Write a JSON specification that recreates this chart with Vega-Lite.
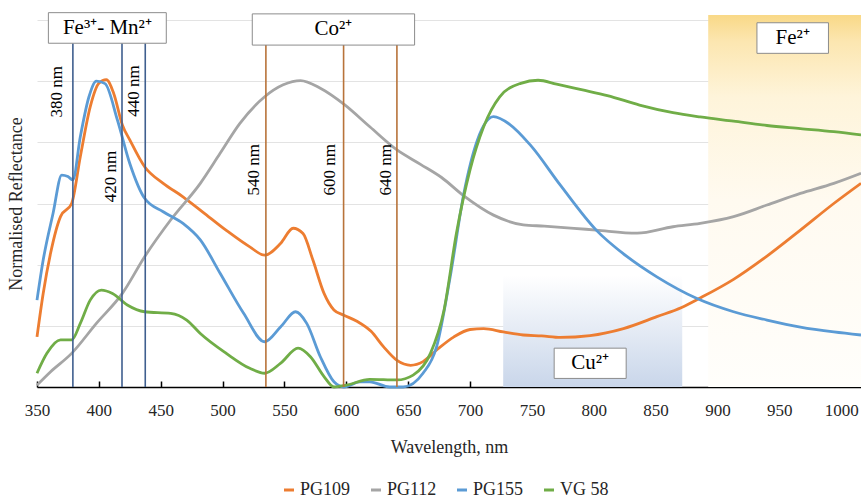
{
  "$schema": "https://vega.github.io/schema/vega-lite/v6.json",
  "width": 824,
  "height": 367,
  "autosize": {"type": "none"},
  "padding": {"left": 37, "top": 20, "right": 0, "bottom": 112},
  "background": "white",
  "config": {
    "view": {"stroke": null},
    "font": "Liberation Serif",
    "axis": {"labelFont": "Liberation Serif", "titleFont": "Liberation Serif", "titleFontWeight": "normal", "labelColor": "#262626", "titleColor": "#262626"}
  },
  "datasets": {
    "spectra": [
      {"s":"PG109","w":350,"r":0.164},{"s":"PG109","w":355,"r":0.306},{"s":"PG109","w":361,"r":0.438},{"s":"PG109","w":369,"r":0.557},{"s":"PG109","w":378,"r":0.600},{"s":"PG109","w":385,"r":0.753},{"s":"PG109","w":393,"r":0.916},{"s":"PG109","w":400,"r":0.993},{"s":"PG109","w":406,"r":1.005},{"s":"PG109","w":412,"r":0.96},{"s":"PG109","w":419,"r":0.857},{"s":"PG109","w":425,"r":0.808},{"s":"PG109","w":437,"r":0.72},{"s":"PG109","w":452,"r":0.666},{"s":"PG109","w":468,"r":0.622},{"s":"PG109","w":484,"r":0.572},{"s":"PG109","w":503,"r":0.512},{"s":"PG109","w":522,"r":0.458},{"s":"PG109","w":534,"r":0.431},{"s":"PG109","w":547,"r":0.47},{"s":"PG109","w":557,"r":0.519},{"s":"PG109","w":565,"r":0.502},{"s":"PG109","w":573,"r":0.415},{"s":"PG109","w":582,"r":0.306},{"s":"PG109","w":590,"r":0.252},{"s":"PG109","w":598,"r":0.235},{"s":"PG109","w":609,"r":0.214},{"s":"PG109","w":620,"r":0.182},{"s":"PG109","w":630,"r":0.132},{"s":"PG109","w":641,"r":0.087},{"s":"PG109","w":652,"r":0.071},{"s":"PG109","w":662,"r":0.083},{"s":"PG109","w":673,"r":0.121},{"s":"PG109","w":687,"r":0.164},{"s":"PG109","w":700,"r":0.188},{"s":"PG109","w":711,"r":0.191},{"s":"PG109","w":727,"r":0.18},{"s":"PG109","w":743,"r":0.17},{"s":"PG109","w":758,"r":0.167},{"s":"PG109","w":773,"r":0.162},{"s":"PG109","w":797,"r":0.168},{"s":"PG109","w":824,"r":0.191},{"s":"PG109","w":851,"r":0.23},{"s":"PG109","w":871,"r":0.26},{"s":"PG109","w":886,"r":0.291},{"s":"PG109","w":913,"r":0.352},{"s":"PG109","w":940,"r":0.428},{"s":"PG109","w":967,"r":0.513},{"s":"PG109","w":994,"r":0.60},{"s":"PG109","w":1016,"r":0.666},
      {"s":"PG112","w":350,"r":0.006},{"s":"PG112","w":361,"r":0.05},{"s":"PG112","w":378,"r":0.11},{"s":"PG112","w":398,"r":0.208},{"s":"PG112","w":419,"r":0.306},{"s":"PG112","w":437,"r":0.426},{"s":"PG112","w":458,"r":0.546},{"s":"PG112","w":482,"r":0.666},{"s":"PG112","w":498,"r":0.764},{"s":"PG112","w":514,"r":0.862},{"s":"PG112","w":534,"r":0.949},{"s":"PG112","w":549,"r":0.988},{"s":"PG112","w":563,"r":1.002},{"s":"PG112","w":579,"r":0.977},{"s":"PG112","w":598,"r":0.925},{"s":"PG112","w":619,"r":0.851},{"s":"PG112","w":641,"r":0.775},{"s":"PG112","w":660,"r":0.728},{"s":"PG112","w":677,"r":0.685},{"s":"PG112","w":695,"r":0.625},{"s":"PG112","w":719,"r":0.562},{"s":"PG112","w":743,"r":0.53},{"s":"PG112","w":760,"r":0.526},{"s":"PG112","w":784,"r":0.519},{"s":"PG112","w":802,"r":0.513},{"s":"PG112","w":835,"r":0.503},{"s":"PG112","w":864,"r":0.524},{"s":"PG112","w":886,"r":0.535},{"s":"PG112","w":913,"r":0.557},{"s":"PG112","w":940,"r":0.595},{"s":"PG112","w":967,"r":0.633},{"s":"PG112","w":994,"r":0.666},{"s":"PG112","w":1016,"r":0.699},
      {"s":"PG155","w":350,"r":0.284},{"s":"PG155","w":355,"r":0.415},{"s":"PG155","w":363,"r":0.568},{"s":"PG155","w":370,"r":0.693},{"s":"PG155","w":375,"r":0.688},{"s":"PG155","w":379,"r":0.677},{"s":"PG155","w":385,"r":0.818},{"s":"PG155","w":392,"r":0.949},{"s":"PG155","w":398,"r":1.0},{"s":"PG155","w":405,"r":0.992},{"s":"PG155","w":415,"r":0.873},{"s":"PG155","w":425,"r":0.731},{"s":"PG155","w":437,"r":0.617},{"s":"PG155","w":452,"r":0.573},{"s":"PG155","w":468,"r":0.535},{"s":"PG155","w":482,"r":0.481},{"s":"PG155","w":498,"r":0.372},{"s":"PG155","w":517,"r":0.241},{"s":"PG155","w":534,"r":0.148},{"s":"PG155","w":547,"r":0.197},{"s":"PG155","w":559,"r":0.246},{"s":"PG155","w":568,"r":0.208},{"s":"PG155","w":579,"r":0.099},{"s":"PG155","w":590,"r":0.017},{"s":"PG155","w":598,"r":0.0},{"s":"PG155","w":611,"r":0.017},{"s":"PG155","w":619,"r":0.017},{"s":"PG155","w":635,"r":0.0},{"s":"PG155","w":646,"r":0.0},{"s":"PG155","w":662,"r":0.045},{"s":"PG155","w":673,"r":0.132},{"s":"PG155","w":684,"r":0.361},{"s":"PG155","w":695,"r":0.633},{"s":"PG155","w":706,"r":0.808},{"s":"PG155","w":719,"r":0.884},{"s":"PG155","w":732,"r":0.859},{"s":"PG155","w":749,"r":0.79},{"s":"PG155","w":773,"r":0.66},{"s":"PG155","w":802,"r":0.513},{"s":"PG155","w":827,"r":0.426},{"s":"PG155","w":851,"r":0.36},{"s":"PG155","w":883,"r":0.29},{"s":"PG155","w":913,"r":0.246},{"s":"PG155","w":940,"r":0.219},{"s":"PG155","w":967,"r":0.196},{"s":"PG155","w":994,"r":0.18},{"s":"PG155","w":1016,"r":0.17},
      {"s":"VG 58","w":350,"r":0.045},{"s":"VG 58","w":358,"r":0.11},{"s":"VG 58","w":369,"r":0.154},{"s":"VG 58","w":378,"r":0.154},{"s":"VG 58","w":385,"r":0.208},{"s":"VG 58","w":393,"r":0.284},{"s":"VG 58","w":402,"r":0.317},{"s":"VG 58","w":411,"r":0.306},{"s":"VG 58","w":423,"r":0.268},{"s":"VG 58","w":437,"r":0.246},{"s":"VG 58","w":458,"r":0.241},{"s":"VG 58","w":471,"r":0.219},{"s":"VG 58","w":482,"r":0.175},{"s":"VG 58","w":503,"r":0.11},{"s":"VG 58","w":522,"r":0.061},{"s":"VG 58","w":534,"r":0.045},{"s":"VG 58","w":547,"r":0.078},{"s":"VG 58","w":561,"r":0.127},{"s":"VG 58","w":571,"r":0.099},{"s":"VG 58","w":582,"r":0.034},{"s":"VG 58","w":590,"r":0.0},{"s":"VG 58","w":600,"r":0.006},{"s":"VG 58","w":619,"r":0.025},{"s":"VG 58","w":641,"r":0.023},{"s":"VG 58","w":654,"r":0.039},{"s":"VG 58","w":668,"r":0.11},{"s":"VG 58","w":679,"r":0.252},{"s":"VG 58","w":689,"r":0.503},{"s":"VG 58","w":700,"r":0.71},{"s":"VG 58","w":711,"r":0.851},{"s":"VG 58","w":724,"r":0.949},{"s":"VG 58","w":741,"r":0.993},{"s":"VG 58","w":755,"r":1.003},{"s":"VG 58","w":770,"r":0.99},{"s":"VG 58","w":790,"r":0.972},{"s":"VG 58","w":811,"r":0.953},{"s":"VG 58","w":837,"r":0.922},{"s":"VG 58","w":864,"r":0.897},{"s":"VG 58","w":886,"r":0.883},{"s":"VG 58","w":913,"r":0.869},{"s":"VG 58","w":940,"r":0.855},{"s":"VG 58","w":967,"r":0.845},{"s":"VG 58","w":994,"r":0.835},{"s":"VG 58","w":1016,"r":0.824}
    ],
    "lines": [
      {"ion":"Fe","w":379,"top":1.124},{"ion":"Fe","w":418.7,"top":1.124},{"ion":"Fe","w":437.5,"top":1.124},
      {"ion":"Co","w":535,"top":1.118},{"ion":"Co","w":597.8,"top":1.118},{"ion":"Co","w":640.9,"top":1.118}
    ],
    "labels": [
      {"t":"380  nm","w":366.2,"r":0.965},
      {"t":"440  nm","w":428.6,"r":0.968},
      {"t":"420  nm","w":409.6,"r":0.688},
      {"t":"540  nm","w":525.6,"r":0.71},
      {"t":"600  nm","w":587,"r":0.71},
      {"t":"640  nm","w":631.9,"r":0.71}
    ],
    "boxes": [
      {"t":"Fe³⁺- Mn²⁺","x1":359.2,"x2":454.5,"y1":1.124,"y2":1.224,"cx":406.9,"cy":1.174},
      {"t":"Co²⁺","x1":524,"x2":655.2,"y1":1.118,"y2":1.22,"cx":589.6,"cy":1.169},
      {"t":"Fe²⁺","x1":931.9,"x2":989.7,"y1":1.091,"y2":1.191,"cx":960.8,"cy":1.141},
      {"t":"Cu²⁺","x1":768,"x2":826.2,"y1":0.028,"y2":0.127,"cx":797.1,"cy":0.0775}
    ]
  },
  "layer": [
    {
      "data": {"values": [{"x1": 892.5, "x2": 1016, "y1": 0, "y2": 1.216}]},
      "mark": {"type": "rect", "fill": {"gradient": "linear", "x1": 0, "y1": 0, "x2": 0, "y2": 1, "stops": [{"offset": 0, "color": "#f9d987"}, {"offset": 0.07, "color": "#fce6b0"}, {"offset": 0.22, "color": "#fef4da"}, {"offset": 0.5, "color": "#fffaf0"}, {"offset": 1, "color": "#fffefb"}]}},
      "encoding": {
        "x": {"field": "x1", "type": "quantitative", "scale": {"domain": [350, 1016], "nice": false, "zero": false}},
        "x2": {"field": "x2"},
        "y": {"field": "y1", "type": "quantitative", "scale": {"domain": [0, 1.2], "nice": false}},
        "y2": {"field": "y2"}
      }
    },
    {
      "data": {"values": [{"x1": 726.8, "x2": 871.5, "y1": 0, "y2": 0.366}]},
      "mark": {"type": "rect", "fill": {"gradient": "linear", "x1": 0, "y1": 0, "x2": 0, "y2": 1, "stops": [{"offset": 0, "color": "#ffffff"}, {"offset": 1, "color": "#c9d6ea"}]}},
      "encoding": {
        "x": {"field": "x1", "type": "quantitative"},
        "x2": {"field": "x2"},
        "y": {"field": "y1", "type": "quantitative"},
        "y2": {"field": "y2"}
      }
    },
    {
      "data": {"name": "spectra"},
      "mark": {"type": "line", "strokeWidth": 2.8, "interpolate": "monotone"},
      "encoding": {
        "x": {"field": "w", "type": "quantitative", "scale": {"domain": [350, 1016], "nice": false, "zero": false},
          "axis": {"title": "Wavelength, nm", "format": "d", "values": [350,375,400,425,450,475,500,525,550,575,600,625,650,675,700,725,750,775,800,825,850,875,900,925,950,975,1000], "labelExpr": "datum.value % 50 === 0 ? datum.label : ''", "labelFontSize": 17, "titleFontSize": 18, "grid": false, "domainColor": "#000000", "domainWidth": 1.5, "tickColor": "#000000", "tickWidth": 1.5, "tickSize": -6, "labelPadding": 21, "titlePadding": 20, "labelFlush": false, "labelOverlap": false}},
        "y": {"field": "r", "type": "quantitative", "scale": {"domain": [0, 1.2], "nice": false},
          "axis": {"title": "Normalised Reflectance", "titleFontSize": 18, "labels": false, "ticks": false, "domain": false, "grid": true, "gridColor": "#e3e3e3", "gridWidth": 1, "values": [0.2, 0.4, 0.6, 0.8, 1.0, 1.2], "titlePadding": 12}},
        "color": {"field": "s", "type": "nominal", "scale": {"domain": ["PG109", "PG112", "PG155", "VG 58"], "range": ["#ED7D31", "#A5A5A5", "#5B9BD5", "#70AD47"]},
          "legend": {"orient": "none", "legendX": 243, "legendY": 461, "direction": "horizontal", "title": null, "symbolType": "stroke", "symbolSize": 100, "symbolStrokeWidth": 3, "labelFont": "Liberation Serif", "labelFontSize": 18, "labelColor": "#262626", "columnPadding": 14, "labelOffset": 2}},
        "order": {"field": "w", "type": "quantitative"}
      }
    },
    {
      "data": {"name": "lines"},
      "mark": {"type": "rule", "strokeWidth": 1.6},
      "encoding": {
        "x": {"field": "w", "type": "quantitative"},
        "y": {"field": "top", "type": "quantitative"},
        "y2": {"datum": 0},
        "color": {"condition": {"test": "datum.ion === 'Co'", "value": "#b8733a"}, "value": "#3f5f8f"}
      }
    },
    {
      "data": {"name": "boxes"},
      "mark": {"type": "rect", "fill": "white", "stroke": "#8c8c8c", "strokeWidth": 1},
      "encoding": {
        "x": {"field": "x1", "type": "quantitative"},
        "x2": {"field": "x2"},
        "y": {"field": "y1", "type": "quantitative"},
        "y2": {"field": "y2"}
      }
    },
    {
      "data": {"name": "boxes"},
      "mark": {"type": "text", "font": "Liberation Serif", "fontSize": 21, "color": "#000000", "align": "center", "baseline": "middle"},
      "encoding": {
        "x": {"field": "cx", "type": "quantitative"},
        "y": {"field": "cy", "type": "quantitative"},
        "text": {"field": "t"}
      }
    },
    {
      "data": {"name": "labels"},
      "mark": {"type": "text", "font": "Liberation Serif", "fontSize": 17, "color": "#000000", "angle": 270, "align": "center", "baseline": "middle"},
      "encoding": {
        "x": {"field": "w", "type": "quantitative"},
        "y": {"field": "r", "type": "quantitative"},
        "text": {"field": "t"}
      }
    }
  ]
}
